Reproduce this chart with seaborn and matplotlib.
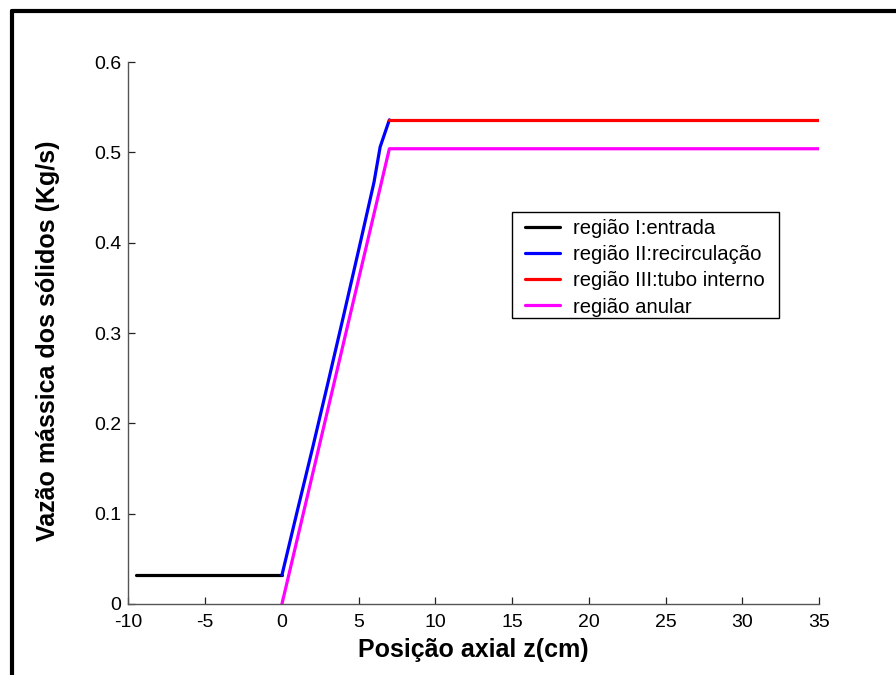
import matplotlib
matplotlib.use("Agg")
import matplotlib.pyplot as plt
from matplotlib.lines import Line2D
from matplotlib.patches import Rectangle
import seaborn as sns
import pandas as pd

# Axial solids mass flow in each region of the spouted bed
z_entrada = [-9.5, 0.0]
w_entrada = [0.032, 0.032]

z_recirc = [0.0, 1.0, 2.0, 3.0, 4.0, 5.0, 6.0, 6.4, 7.0]
w_recirc = [0.032, 0.103, 0.173, 0.245, 0.318, 0.392, 0.467, 0.506, 0.536]

z_tubo = [7.0, 35.0]
w_tubo = [0.536, 0.536]

z_anular = [0.0, 7.0, 35.0]
w_anular = [0.0, 0.504, 0.504]

labels = ["região I:entrada", "região II:recirculação",
          "região III:tubo interno", "região anular"]
colors = ["#000000", "#0000ff", "#ff0000", "#ff00ff"]

x_ticks = [-10, -5, 0, 5, 10, 15, 20, 25, 30, 35]
y_ticks = [0, 0.1, 0.2, 0.3, 0.4, 0.5, 0.6]

sns.set_theme(style="white")
plt.rcParams["font.family"] = ["Liberation Sans", "DejaVu Sans"]
plt.rcParams["text.color"] = "black"
plt.rcParams["axes.labelcolor"] = "black"

fig = plt.figure(figsize=(8.96, 6.75), dpi=100)
ax = fig.add_axes([0.1434, 0.1052, 0.7707, 0.8029])

series = [(z_entrada, w_entrada), (z_recirc, w_recirc),
          (z_tubo, w_tubo), (z_anular, w_anular)]
for (z, w), lab, c in zip(series, labels, colors):
    df = pd.DataFrame({"z": z, "w": w})
    sns.lineplot(data=df, x="z", y="w", ax=ax, color=c, linewidth=2.3,
                 sort=False, estimator=None, legend=False)

ax.set_xlim(-10, 35)
ax.set_ylim(0, 0.6)
ax.set_xticks(x_ticks)
ax.set_xticklabels([str(t) for t in x_ticks])
ax.set_yticks(y_ticks)
ax.set_yticklabels(["0"] + [f"{t:.1f}" for t in y_ticks[1:]])

for side in ["top", "right"]:
    ax.spines[side].set_visible(False)
for side in ["left", "bottom"]:
    ax.spines[side].set_color("#555555")
    ax.spines[side].set_linewidth(1.0)
ax.tick_params(bottom=True, left=True, direction="in", length=5, width=0.9,
               color="#222222", labelsize=14, labelcolor="black", pad=5)
ax.tick_params(axis="x", pad=7)

ax.set_xlabel("Posição axial z(cm)", fontsize=18, fontweight="bold",
              labelpad=5, color="black")
ax.set_ylabel("Vazão mássica dos sólidos (Kg/s)", fontsize=18,
              fontweight="bold", color="black")
ax.yaxis.set_label_coords(-0.099, 0.485)

# Legend box with wider side margins than matplotlib's uniform padding
ax.add_patch(Rectangle((0.5554, 0.5277), 0.942 - 0.5554, 0.7232 - 0.5277,
                       transform=ax.transAxes, facecolor="white",
                       edgecolor="black", linewidth=1.0, zorder=4))
handles = [Line2D([0], [0], color=c, linewidth=2.3) for c in colors]
leg = ax.legend(handles, labels, loc="upper left",
                bbox_to_anchor=(0.574, 0.711), borderaxespad=0,
                fontsize=14.6, frameon=False,
                handlelength=1.75, handletextpad=0.6, labelspacing=0.36,
                borderpad=0.0)
leg.set_zorder(5)

# Outer frame around the figure
fig.add_artist(Line2D([12 / 896, 1.0], [1 - 11 / 675, 1 - 11 / 675],
                      transform=fig.transFigure, color="black", linewidth=3))
fig.add_artist(Line2D([12 / 896, 12 / 896], [0.0, 1 - 11 / 675],
                      transform=fig.transFigure, color="black", linewidth=3))

fig.savefig("out.png", dpi=100, facecolor="white")
